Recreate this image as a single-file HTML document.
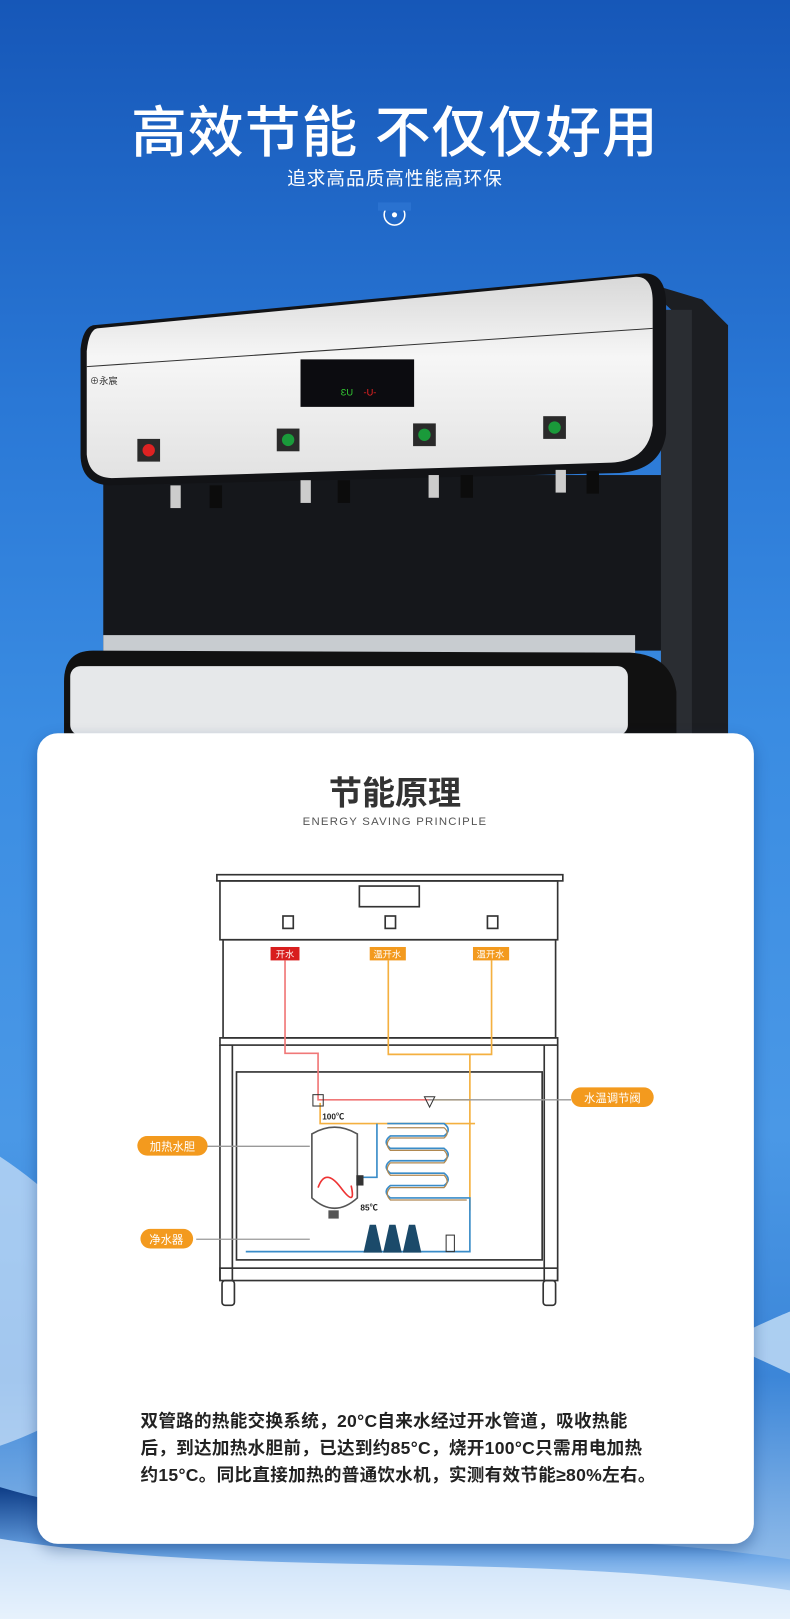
<!DOCTYPE html>
<html><head><meta charset="utf-8"><style>
html,body{margin:0;padding:0;width:790px;height:1619px;overflow:hidden;background:#2f7ad6}
#w{position:absolute;left:0;top:0;width:765px;height:1568px;transform:scale(1.0327);transform-origin:0 0;overflow:hidden;
background:linear-gradient(180deg,#1657b8 0%,#2a78d6 25%,#3a8ce2 45%,#4a98e6 70%,#3c86d8 85%,#a9cbee 100%);font-family:"Liberation Sans","Noto Sans CJK SC",sans-serif}
.t1{position:absolute;left:0;width:765px;top:84px;text-align:center;color:#fff;font-size:54px;font-weight:500;letter-spacing:1px}
.t2{position:absolute;left:0;width:765px;top:159px;text-align:center;color:#fff;font-size:18px;letter-spacing:1px}
.card{position:absolute;left:36px;top:710px;width:694px;height:785px;background:#fff;border-radius:20px;box-shadow:0 6px 14px rgba(0,40,100,.35)}
.h{position:absolute;left:0;width:765px;top:743px;text-align:center;font-size:32px;font-weight:bold;color:#333}
.h2{position:absolute;left:0;width:765px;top:790px;text-align:center;font-size:11px;color:#555;letter-spacing:1.2px}
.p{position:absolute;left:136px;top:1364px;font-size:17px;line-height:26px;color:#222;font-weight:bold;white-space:nowrap;letter-spacing:0.3px}
svg{position:absolute;left:0;top:0}
</style></head><body><div id="w">
<svg width="765" height="1568">
<defs>
<linearGradient id="sil" x1="0" y1="0" x2="0" y2="1"><stop offset="0" stop-color="#d8d8d8"/><stop offset=".4" stop-color="#f6f6f6"/><stop offset="1" stop-color="#e2e2e2"/></linearGradient>
<linearGradient id="bw" x1="0" y1="0" x2="0" y2="1"><stop offset="0" stop-color="#0d3c86"/><stop offset=".5" stop-color="#6aa5e6"/><stop offset="1" stop-color="#dfeefc"/></linearGradient>
</defs>
<path d="M0 1120 C120 1200 200 1330 0 1400 Z" fill="#cfe3f8" opacity=".7"/>
<path d="M0 1440 C200 1500 500 1470 765 1510 L765 1568 L0 1568 Z" fill="url(#bw)"/>
<path d="M0 1490 C250 1530 500 1500 765 1540 L765 1568 L0 1568Z" fill="#e9f3fd" opacity=".8"/>
<path d="M700 1300 C740 1280 765 1270 765 1270 L765 1330 Z" fill="#dcecfb" opacity=".7"/>
<circle cx="382" cy="208" r="10" fill="none" stroke="#fff" stroke-width="1.5"/>
<rect x="366" y="196" width="32" height="8" fill="#2a72d0"/>
<circle cx="382" cy="208" r="2.5" fill="#fff"/>
<path d="M620 272 L680 290 L695 305 L705 315 L705 712 L650 712 L650 300 Z" fill="#1c1e22"/>
<rect x="100" y="460" width="560" height="170" fill="#15171b"/>
<rect x="640" y="300" width="30" height="412" fill="#2a2d32"/>
<path d="M90 315 L620 265 Q645 262 645 295 L645 420 Q640 455 600 458 L105 470 Q78 468 78 440 L78 338 Q80 318 90 315Z" fill="#121316"/>
<path d="M94 318 L616 268 Q632 268 632 292 L632 412 Q628 446 592 448 L108 463 Q86 462 84 440 L84 340 Q86 320 94 318Z" fill="url(#sil)"/>
<line x1="84" y1="355" x2="632" y2="318" stroke="#333" stroke-width="1"/>
<rect x="291" y="348" width="110" height="46" fill="#0c0c10"/>
<text x="330" y="383" font-size="9" fill="#3c3">ƐU</text><text x="352" y="383" font-size="9" fill="#e22">-U-</text>
<text x="87" y="372" font-size="9" fill="#333">⊕永宸</text>
<g fill="#2a2a2a"><rect x="133" y="425" width="22" height="22"/><rect x="268" y="415" width="22" height="22"/><rect x="400" y="410" width="22" height="22"/><rect x="526" y="403" width="22" height="22"/></g>
<circle cx="144" cy="436" r="6" fill="#d22"/><circle cx="279" cy="426" r="6" fill="#1a9a3a"/><circle cx="411" cy="421" r="6" fill="#1a9a3a"/><circle cx="537" cy="414" r="6" fill="#1a9a3a"/>
<g fill="#ccc"><rect x="165" y="470" width="10" height="22"/><rect x="291" y="465" width="10" height="22"/><rect x="415" y="460" width="10" height="22"/><rect x="538" y="455" width="10" height="22"/></g>
<g fill="#0c0c0c"><rect x="203" y="470" width="12" height="22"/><rect x="327" y="465" width="12" height="22"/><rect x="446" y="460" width="12" height="22"/><rect x="568" y="456" width="12" height="22"/></g>
<rect x="100" y="615" width="515" height="20" fill="#c8ccd0"/>
<path d="M62 660 Q62 630 90 630 L610 632 Q650 634 655 670 L655 712 L62 712Z" fill="#111"/>
<rect x="68" y="645" width="540" height="67" rx="10" fill="#e6e8ea"/>
</svg>
<div class="t1">高效节能 不仅仅好用</div>
<div class="t2">追求高品质高性能高环保</div>
<div class="card"></div>
<svg width="765" height="1568">
<g fill="none" stroke="#333" stroke-width="1.6">
<rect x="210" y="847" width="335" height="6"/>
<rect x="213" y="853" width="327" height="57"/>
<rect x="348" y="858" width="58" height="20"/>
<rect x="274" y="887" width="10" height="12"/><rect x="373" y="887" width="10" height="12"/><rect x="472" y="887" width="10" height="12"/>
<rect x="216" y="910" width="322" height="95"/>
<rect x="213" y="1005" width="327" height="7"/>
<line x1="213" y1="1012" x2="213" y2="1240"/><line x1="540" y1="1012" x2="540" y2="1240"/>
<line x1="225" y1="1012" x2="225" y2="1240"/><line x1="527" y1="1012" x2="527" y2="1240"/>
<rect x="229" y="1038" width="296" height="182"/>
<rect x="213" y="1228" width="327" height="12"/>
<rect x="215" y="1240" width="12" height="24" rx="3"/><rect x="526" y="1240" width="12" height="24" rx="3"/>
</g>
<rect x="262" y="917" width="28" height="13" fill="#d81e1e"/><text x="276" y="927" font-size="9" fill="#fff" text-anchor="middle">开水</text>
<rect x="358" y="917" width="35" height="13" fill="#f39a1e"/><text x="375" y="927" font-size="9" fill="#fff" text-anchor="middle">温开水</text>
<rect x="458" y="917" width="35" height="13" fill="#f39a1e"/><text x="475" y="927" font-size="9" fill="#fff" text-anchor="middle">温开水</text>
<g fill="none" stroke-width="1.6">
<path d="M276 930 V1020 H308 V1065 H418" stroke="#f07878"/>
<path d="M376 930 V1021 H476 V930 M455 1021 V1172 M455 1065 H420" stroke="#f4b040"/>
<path d="M310 1068 V1088 H460" stroke="#f4b040"/>
<path d="M365 1088 V1140 H352 M375 1088 H430 Q438 1094 430 1100 H378 Q370 1106 378 1112 H430 Q438 1118 430 1124 H378 Q370 1130 378 1136 H430 Q438 1142 430 1148 H378 Q370 1154 378 1160 H455 V1212 H238" stroke="#3a8cc8"/>
<path d="M375 1092 H430 Q436 1097 430 1102 H378 Q372 1108 378 1114 H430 Q436 1120 430 1126 H378 Q372 1132 378 1138 H430 Q436 1144 430 1150 H378 Q372 1156 378 1162 H452" stroke="#b08850" stroke-width="1.2"/>
<path d="M302 1098 Q324 1085 346 1098 V1160 Q324 1180 302 1160 Z" stroke="#555"/>
<path d="M308 1150 Q315 1130 330 1150 T340 1148" stroke="#e33"/>
<path d="M300 1110 H200 M300 1200 H190 M415 1065 H553" stroke="#999" stroke-width="1.3"/>
</g>
<rect x="303" y="1060" width="10" height="11" fill="none" stroke="#333"/>
<path d="M411 1062 L421 1062 L416 1072Z" fill="none" stroke="#333"/>
<rect x="345" y="1138" width="7" height="10" fill="#333"/>
<rect x="318" y="1172" width="10" height="8" fill="#555"/>
<rect x="432" y="1196" width="8" height="16" fill="none" stroke="#333"/>
<text x="312" y="1084" font-size="8" font-weight="bold" fill="#222">100℃</text>
<text x="349" y="1172" font-size="8" font-weight="bold" fill="#222">85℃</text>
<g fill="#1b4a6a"><path d="M352 1213 L358 1186 L364 1186 L370 1213Z"/><path d="M371 1213 L377 1186 L383 1186 L389 1213Z"/><path d="M390 1213 L396 1186 L402 1186 L408 1213Z"/></g>
<rect x="133" y="1100" width="68" height="19" rx="9.5" fill="#f39a1e"/><text x="167" y="1114" font-size="11" fill="#fff" text-anchor="middle">加热水胆</text>
<rect x="136" y="1190" width="51" height="19" rx="9.5" fill="#f39a1e"/><text x="161" y="1204" font-size="11" fill="#fff" text-anchor="middle">净水器</text>
<rect x="553" y="1053" width="80" height="19" rx="9.5" fill="#f39a1e"/><text x="593" y="1067" font-size="11" fill="#fff" text-anchor="middle">水温调节阀</text>
</svg>
<div class="h">节能原理</div>
<div class="h2">ENERGY SAVING PRINCIPLE</div>
<div class="p">双管路的热能交换系统，20°C自来水经过开水管道，吸收热能<br>后，到达加热水胆前，已达到约85°C，烧开100°C只需用电加热<br>约15°C。同比直接加热的普通饮水机，实测有效节能≥80%左右。</div>
</div>
</body></html>
